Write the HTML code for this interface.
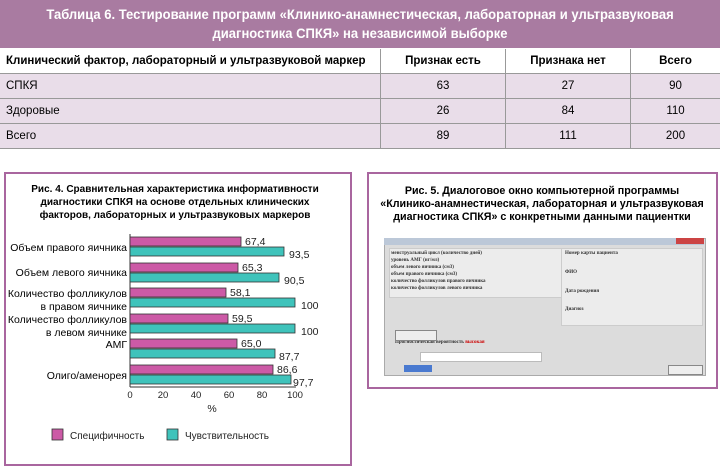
<!DOCTYPE html>
<html><head><meta charset="utf-8"><style>
body{margin:0;width:720px;height:466px;background:#fff;position:relative;font-family:"Liberation Sans","Noto Sans CJK SC",sans-serif;overflow:hidden}
.a{position:absolute}
.hdr{left:0;top:0;width:720px;height:48px;background:#a97ba1;color:#fff;font-weight:bold;font-size:14px;text-align:center;line-height:19px;padding-top:5px;box-sizing:border-box}
.hdr div{transform:scaleX(0.93);transform-origin:center}
table{position:absolute;left:0;top:49px;width:720px;border-collapse:collapse;font-size:11.5px}
td{height:24px;border-bottom:1px solid #999;padding:0 6px}
td+td{border-left:1px solid #999;text-align:center}
tr.s td{background:#e9dde9}
.box{border:2px solid #a9669f}
.t{font-weight:bold;font-size:10.7px;text-align:center;line-height:13px}
.lbl{font-size:10.5px;text-align:right;width:125px;left:2px;line-height:13px}
.sm{position:absolute;font-family:"Liberation Serif",serif;font-size:5px;font-weight:bold;color:#333;white-space:nowrap}
</style></head><body>
<div class="a hdr"><div>Таблица 6. Тестирование программ «Клинико-анамнестическая, лабораторная и ультразвуковая<br>диагностика СПКЯ» на независимой выборке</div></div>
<table>
<tr><td style="font-weight:bold;width:368px">Клинический фактор, лабораторный и ультразвуковой маркер</td><td style="font-weight:bold;width:112px">Признак есть</td><td style="font-weight:bold;width:112px">Признака нет</td><td style="font-weight:bold">Всего</td></tr>
<tr class="s"><td>СПКЯ</td><td>63</td><td>27</td><td>90</td></tr>
<tr class="s"><td>Здоровые</td><td>26</td><td>84</td><td>110</td></tr>
<tr class="s"><td>Всего</td><td>89</td><td>111</td><td>200</td></tr>
</table>

<div class="a box" style="left:4px;top:172px;width:344px;height:290px"></div>
<div class="a t" style="left:8px;top:183px;width:334px;font-size:10px">Рис. 4. Сравнительная характеристика информативности<br>диагностики СПКЯ на основе отдельных клинических<br>факторов, лабораторных и ультразвуковых маркеров</div>
<svg class="a" style="left:0;top:0" width="360" height="466">
<g stroke="#333" stroke-width="1" fill="none"><line x1="130" y1="234" x2="130" y2="387"/><line x1="130" y1="387" x2="296" y2="387"/></g>
<g stroke="#333" stroke-width="0.8">
<rect x="130" y="237" width="111" height="9" fill="#cc5aa6"/><rect x="130" y="247" width="154" height="9" fill="#3fc3bb"/>
<rect x="130" y="263" width="108" height="9" fill="#cc5aa6"/><rect x="130" y="273" width="149" height="9" fill="#3fc3bb"/>
<rect x="130" y="288" width="96" height="9" fill="#cc5aa6"/><rect x="130" y="298" width="165" height="9" fill="#3fc3bb"/>
<rect x="130" y="314" width="98" height="9" fill="#cc5aa6"/><rect x="130" y="324" width="165" height="9" fill="#3fc3bb"/>
<rect x="130" y="339" width="107" height="9" fill="#cc5aa6"/><rect x="130" y="349" width="145" height="9" fill="#3fc3bb"/>
<rect x="130" y="365" width="143" height="9" fill="#cc5aa6"/><rect x="130" y="375" width="161" height="9" fill="#3fc3bb"/>
</g>
<g font-size="10.5" font-family="Liberation Sans,sans-serif" fill="#222">
<text x="245" y="245">67,4</text><text x="289" y="258">93,5</text>
<text x="242" y="271">65,3</text><text x="284" y="284">90,5</text>
<text x="230" y="296">58,1</text><text x="301" y="309">100</text>
<text x="232" y="322">59,5</text><text x="301" y="335">100</text>
<text x="241" y="347">65,0</text><text x="279" y="360">87,7</text>
<text x="277" y="373">86,6</text><text x="293" y="386">97,7</text>
<g text-anchor="middle" font-size="9.5"><text x="130" y="398">0</text><text x="163" y="398">20</text><text x="196" y="398">40</text><text x="229" y="398">60</text><text x="262" y="398">80</text><text x="295" y="398">100</text></g>
<text x="212" y="412" text-anchor="middle">%</text>
</g>
<rect x="52" y="429" width="11" height="11" fill="#cc5aa6" stroke="#333" stroke-width="0.8"/>
<rect x="167" y="429" width="11" height="11" fill="#3fc3bb" stroke="#333" stroke-width="0.8"/>
<g font-size="10" font-family="Liberation Sans,sans-serif" fill="#222"><text x="70" y="439">Специфичность</text><text x="185" y="439">Чувствительность</text></g>
</svg>
<div class="a lbl" style="top:242px">Объем правого яичника</div>
<div class="a lbl" style="top:267px">Объем левого яичника</div>
<div class="a lbl" style="top:288px">Количество фолликулов<br>в правом яичнике</div>
<div class="a lbl" style="top:314px">Количество фолликулов<br>в левом яичнике</div>
<div class="a lbl" style="top:339px">АМГ</div>
<div class="a lbl" style="top:370px">Олиго/аменорея</div>

<div class="a box" style="left:367px;top:172px;width:347px;height:213px"></div>
<div class="a t" style="left:370px;top:185px;width:344px">Рис. 5. Диалоговое окно компьютерной программы<br>«Клинико-анамнестическая, лабораторная и ультразвуковая<br>диагностика СПКЯ» с конкретными данными пациентки</div>
<div class="a" style="left:384px;top:238px;width:320px;height:136px;background:#dcdcdc;border:1px solid #aaa"></div>
<div class="a" style="left:384px;top:238px;width:320px;height:7px;background:#bcc8d8"></div>
<div class="a" style="left:676px;top:238px;width:28px;height:6px;background:#c44"></div>
<div class="a" style="left:389px;top:248px;width:180px;height:48px;background:#ececec;border:1px solid #ccc"></div>
<div class="a" style="left:561px;top:248px;width:140px;height:76px;background:#ececec;border:1px solid #ccc"></div>
<div class="sm" style="left:391px;top:250px;line-height:7px">менструальный цикл (количество дней)<br>уровень АМГ (нг/мл)<br>объем левого яичника (см3)<br>объем правого яичника (см3)<br>количество фолликулов правого яичника<br>количество фолликулов левого яичника</div>
<div class="sm" style="left:565px;top:251px">Номер карты пациента</div>
<div class="sm" style="left:565px;top:270px">ФИО</div>
<div class="sm" style="left:565px;top:289px">Дата рождения</div>
<div class="sm" style="left:565px;top:307px">Диагноз</div>
<div class="sm" style="left:395px;top:340px">Прогностическая вероятность <span style="color:#c00">высокая</span></div>
<div class="a" style="left:420px;top:352px;width:120px;height:8px;background:#fff;border:1px solid #bbb"></div>
<div class="a" style="left:395px;top:330px;width:40px;height:9px;background:#eee;border:1px solid #888"></div>
<div class="a" style="left:668px;top:365px;width:33px;height:8px;background:#eee;border:1px solid #888"></div>
<div class="a" style="left:404px;top:365px;width:28px;height:7px;background:#4a7ad0"></div>
</body></html>
